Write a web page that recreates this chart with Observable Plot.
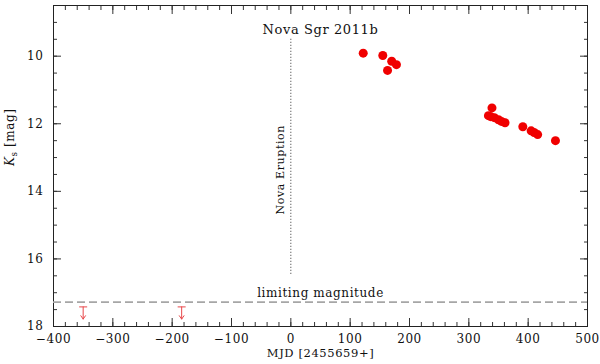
<!DOCTYPE html>
<html><head><meta charset="utf-8">
<script src="https://cdn.jsdelivr.net/npm/d3@7"></script>
<script src="https://cdn.jsdelivr.net/npm/@observablehq/plot@0.6"></script>
<style>
html,body{margin:0;padding:0;background:#fff;}
</style>
</head><body><div id="chart"></div>
<script>
// Observations: MJD offset from 2455659 and Ks magnitude
const mjd  = [122, 155, 163, 170, 178, 333, 339, 337, 343, 350, 355, 361, 391, 405, 410, 416, 446];
const kmag = [9.91, 9.98, 10.42, 10.15, 10.25, 11.76, 11.53, 11.79, 11.82, 11.88, 11.93, 11.97, 12.09, 12.21, 12.26, 12.32, 12.50];

// Pre-eruption upper limits
const limitMJD = [-350, -184];
const limitMag = [17.42, 17.42];

// Limiting magnitude and eruption marker
const limitingMagnitude = [17.28];
const eruptionMJD = [0];
const eruptionSpan = [9.5, 16.5];

// Tick values
const xMajor = [-400, -300, -200, -100, 0, 100, 200, 300, 400, 500];
const xMinor = d3.range(-400, 501, 20);
const yMajor = [10, 12, 14, 16, 18];
const yMinor = d3.range(8.5, 18.01, 0.5);

const titleText = ["Nova Sgr 2011b"];
const eruptionText = ["Nova Eruption"];
const limitText = ["limiting magnitude"];
const xLabel = ["MJD [2455659+]"];
const yLabel = ["Ks [mag]"];

const obs = mjd.map((x, i) => ({x, y: kmag[i]}));
const lims = limitMJD.map((x, i) => ({x, y: limitMag[i]}));

const hbar = {draw(ctx, size) { const w = Math.sqrt(size / Math.PI); ctx.moveTo(-w, 0); ctx.lineTo(w, 0); }};

const font = "DejaVu Serif";
const tickColor = "#333";

const chart = Plot.plot({
  width: 600,
  height: 364,
  marginLeft: 53,
  marginRight: 13,
  marginTop: 5,
  marginBottom: 38,
  style: {fontFamily: font, fontSize: "12px", background: "#fff", color: "#111", letterSpacing: "0.6px"},
  x: {domain: [-400, 500]},
  y: {domain: [8.5, 18], reverse: true},
  marks: [
    // axes: labels
    Plot.axisX(xMajor, {anchor: "bottom", tickSize: 0, tickPadding: 8, label: null, fontSize: 12, tickFormat: d => d < 0 ? "\u2212" + Math.abs(d) : String(d)}),
    Plot.axisY(yMajor, {anchor: "left", tickSize: 0, tickPadding: 10, label: null, fontSize: 12}),
    // inward ticks
    Plot.axisX(xMajor, {anchor: "bottom", tickSize: -8, fill: "none", stroke: tickColor}),
    Plot.axisX(xMinor, {anchor: "bottom", tickSize: -4, fill: "none", stroke: tickColor}),
    Plot.axisX(xMajor, {anchor: "top", tickSize: -8, fill: "none", stroke: tickColor}),
    Plot.axisX(xMinor, {anchor: "top", tickSize: -4, fill: "none", stroke: tickColor}),
    Plot.axisY(yMajor, {anchor: "left", tickSize: -8, fill: "none", stroke: tickColor}),
    Plot.axisY(yMinor, {anchor: "left", tickSize: -4, fill: "none", stroke: tickColor}),
    Plot.axisY(yMajor, {anchor: "right", tickSize: -8, fill: "none", stroke: tickColor}),
    Plot.axisY(yMinor, {anchor: "right", tickSize: -4, fill: "none", stroke: tickColor}),
    Plot.frame({stroke: "#222"}),
    // limiting magnitude
    Plot.ruleY(limitingMagnitude, {y: d => d, stroke: "#a6a6a6", strokeWidth: 1.6, strokeDasharray: "8,4"}),
    Plot.text(limitText, {frameAnchor: "middle", y: () => limitingMagnitude[0], text: d => d, dy: -9, fontSize: 12, fill: "#111"}),
    // eruption
    Plot.ruleX(eruptionMJD, {x: d => d, y1: eruptionSpan[0], y2: eruptionSpan[1], stroke: "#333", strokeDasharray: "1,2"}),
    Plot.text(eruptionText, {x: () => eruptionMJD[0], y: () => 13.36, text: d => d, rotate: -90, dx: -10, fontSize: 11, fill: "#111"}),
    // upper limits
    Plot.arrow(lims, {x1: "x", x2: "x", y1: "y", y2: d => d.y + 0.36, stroke: "#e8474a", strokeWidth: 1, headLength: 7, headAngle: 70}),
    Plot.dot(lims, {x: "x", y: "y", symbol: hbar, r: 4, stroke: "#e8474a", strokeWidth: 1}),
    // observations
    Plot.dot(obs, {x: "x", y: "y", r: 4.5, fill: "#f00000", stroke: "none"}),
    // title & labels
    Plot.text(titleText, {frameAnchor: "top", dy: 19, text: d => d, fontSize: 13, fill: "#111"}),
    Plot.text(xLabel, {frameAnchor: "bottom", dy: 30, text: d => d, fontSize: 11.5, fill: "#111"}),
    Plot.text(yLabel, {frameAnchor: "left", dx: -43, rotate: -90, text: d => d, fontSize: 12, fill: "#111"})
  ]
});

// subscript for Ks
chart.querySelectorAll("text").forEach(t => {
  if (t.textContent === "Ks [mag]") {
    const ns = "http://www.w3.org/2000/svg";
    while (t.firstChild) t.removeChild(t.firstChild);
    const k = document.createElementNS(ns, "tspan"); k.setAttribute("font-style", "italic"); k.textContent = "K";
    const s = document.createElementNS(ns, "tspan"); s.setAttribute("font-size", "8.5"); s.setAttribute("dy", "3"); s.textContent = "s";
    const m = document.createElementNS(ns, "tspan"); m.setAttribute("dy", "-3"); m.textContent = " [mag]";
    t.append(k, s, m);
  }
});

document.getElementById("chart").appendChild(chart);
</script>
</body></html>
